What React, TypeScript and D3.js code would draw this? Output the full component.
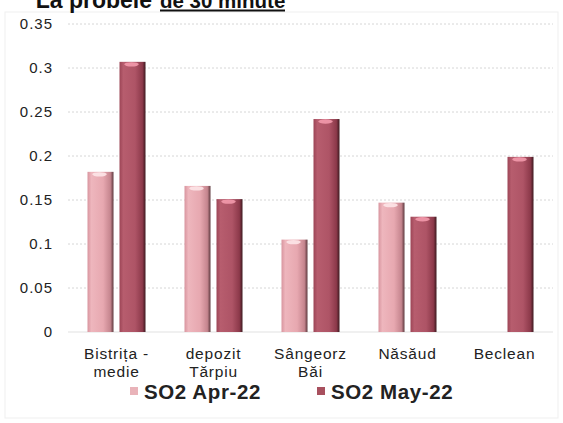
import React from "react";
import * as d3 from "d3";

const categories: string[][] = [
  ["Bistrița -", "medie"],
  ["depozit", "Tărpiu"],
  ["Sângeorz", "Băi"],
  ["Năsăud"],
  ["Beclean"],
];
const seriesNames = ["SO2 Apr-22", "SO2 May-22"];
const aprValues: (number | null)[] = [0.182, 0.166, 0.105, 0.147, null];
const mayValues: (number | null)[] = [0.307, 0.151, 0.242, 0.131, 0.199];
const yTicks = [0, 0.05, 0.1, 0.15, 0.2, 0.25, 0.3, 0.35];

const W = 563;
const H = 423;

export default function App() {
  const catKeys = categories.map((c) => c.join(" "));
  const x0 = d3.scaleBand<string>().domain(catKeys).range([68, 553]).padding(0);
  const x1 = d3.scaleBand<string>().domain(seriesNames).range([-29, 29]).paddingInner(0.1875);
  const y = d3.scaleLinear().domain([0, 0.35]).range([332, 24]);
  const series = [aprValues, mayValues];
  const fmt = (v: number) => (v === 0 ? "0" : String(+v.toFixed(2)));
  const grad = ["gApr", "gMay"];
  const capColor = ["#fde6e8", "#f39aac"];
  const legendSwatch = ["#e9b3b9", "#a8505e"];

  return (
    <svg width={W} height={H} style={{ position: "absolute", left: 0, top: 0, background: "#fff" }}
      fontFamily="Arial, 'Liberation Sans', sans-serif">
      <defs>
        <linearGradient id="gApr" x1="0" x2="1" y1="0" y2="0">
          <stop offset="0" stopColor="#d8959f" />
          <stop offset="0.15" stopColor="#eeb6bd" />
          <stop offset="0.6" stopColor="#e7a8b0" />
          <stop offset="0.88" stopColor="#c5858e" />
          <stop offset="1" stopColor="#5e3a3f" />
        </linearGradient>
        <linearGradient id="gMay" x1="0" x2="1" y1="0" y2="0">
          <stop offset="0" stopColor="#9c4556" />
          <stop offset="0.15" stopColor="#b75d6e" />
          <stop offset="0.6" stopColor="#ae5466" />
          <stop offset="0.88" stopColor="#8c394a" />
          <stop offset="1" stopColor="#3e1a20" />
        </linearGradient>
      </defs>
      <rect x={5} y={12} width={553} height={406} fill="none" stroke="#efefef" strokeWidth={1} />
      {/* Title (partially cut at the top, as in the source) */}
      <text x={152} y={8} fontSize={23} fontWeight="bold" textAnchor="end" fill="#111">La probele</text>
      <text x={160} y={8} fontSize={20.5} fontWeight="bold" fill="#111">de 30 minute</text>
      <line x1={160} x2={285} y1={10.5} y2={10.5} stroke="#111" strokeWidth={2} />

      {/* gridlines & y labels */}
      {yTicks.map((t) => (
        <g key={t}>
          <line x1={68} x2={553} y1={y(t)} y2={y(t)} stroke="#d6d6d6" strokeWidth={1}
            strokeDasharray={t === 0 ? "none" : "2,2"} opacity={t === 0 ? 0.7 : 1} />
          <text x={53} y={y(t) + 5} fontSize={15} letterSpacing={1} textAnchor="end" fill="#222">{fmt(t)}</text>
        </g>
      ))}

      {/* bars */}
      {catKeys.map((k, i) => (
        <g key={k}>
          {series.map((vals, s) => {
            const v = vals[i];
            if (v == null) return null;
            const cx = x0(k)! + x0.bandwidth() / 2;
            const bx = cx + x1(seriesNames[s])!;
            const bw = x1.bandwidth();
            const top = y(v);
            return (
              <g key={s}>
                <rect x={bx} y={top} width={bw} height={y(0) - top} fill={`url(#${grad[s]})`} />
                <ellipse cx={bx + bw / 2 - 1} cy={top + 2.5} rx={bw * 0.28} ry={2.2} fill={capColor[s]} opacity={0.9} />
              </g>
            );
          })}
          {categories[i].map((line, li) => (
            <text key={li} x={x0(k)! + x0.bandwidth() / 2} y={359 + li * 18} fontSize={15.5}
              letterSpacing={0.8} textAnchor="middle" fill="#222">{line}</text>
          ))}
        </g>
      ))}

      {/* legend */}
      {seriesNames.map((n, s) => {
        const lx = s === 0 ? 130 : 317;
        return (
          <g key={n}>
            <rect x={lx} y={387} width={8} height={8} fill={legendSwatch[s]} />
            <text x={lx + 14} y={399} fontSize={20.5} fontWeight="bold" letterSpacing={0.6} fill="#222">{n}</text>
          </g>
        );
      })}
    </svg>
  );
}
